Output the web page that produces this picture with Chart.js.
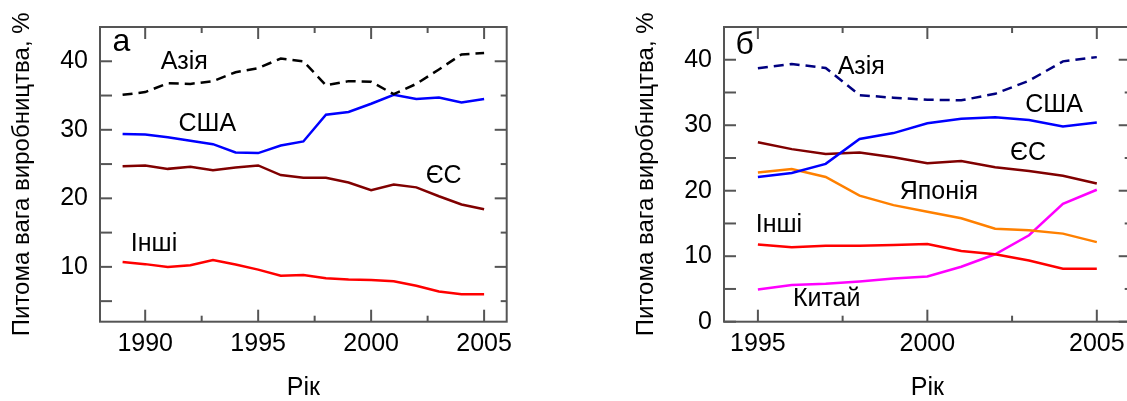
<!DOCTYPE html>
<html>
<head>
<meta charset="utf-8">
<script src="https://cdn.jsdelivr.net/npm/chart.js@4.4.1/dist/chart.umd.min.js"></script>
<style>
    html, body { margin: 0; padding: 0; background: #fff; overflow: hidden; width: 1127px; height: 401px; }
    .panel { position: absolute; top: 0; width: 560px; height: 401px; }
    #wrapA { left: 0; }
    #wrapB { left: 624px; }
</style>
</head>
<body>
<div class="panel" id="wrapA"><canvas id="chartA" width="560" height="401"></canvas></div>
<div class="panel" id="wrapB"><canvas id="chartB" width="560" height="401"></canvas></div>
<script>
// панель а
const yearsA = [1989, 1990, 1991, 1992, 1993, 1994, 1995, 1996, 1997, 1998, 1999, 2000, 2001, 2002, 2003, 2004, 2005];
const asiaA  = [35.1, 35.5, 36.8, 36.7, 37.1, 38.4, 39.0, 40.4, 40.0, 36.5, 37.1, 37.0, 35.2, 36.7, 38.8, 41.0, 41.2];
const usaA   = [29.4, 29.3, 28.9, 28.4, 27.9, 26.7, 26.6, 27.7, 28.3, 32.2, 32.6, 33.8, 35.1, 34.5, 34.7, 34.0, 34.5];
const euA    = [24.7, 24.8, 24.3, 24.6, 24.1, 24.5, 24.8, 23.4, 23.0, 23.0, 22.3, 21.2, 22.0, 21.6, 20.3, 19.1, 18.4];
const otherA = [10.7, 10.4, 10.0, 10.25, 11.0, 10.35, 9.6, 8.7, 8.8, 8.35, 8.15, 8.1, 7.9, 7.25, 6.4, 6.0, 6.0];
const xTicksA = [1990, 1992.5, 1995, 1997.5, 2000, 2002.5, 2005];
const yTicksA = [5, 10, 15, 20, 25, 30, 35, 40];

// панель б
const yearsB = [1995, 1996, 1997, 1998, 1999, 2000, 2001, 2002, 2003, 2004, 2005];
const asiaB  = [38.7, 39.35, 38.75, 34.6, 34.2, 33.9, 33.8, 34.8, 36.8, 39.75, 40.4];
const usaB   = [22.1, 22.7, 24.1, 27.9, 28.8, 30.3, 31.0, 31.2, 30.8, 29.8, 30.4];
const euB    = [27.4, 26.35, 25.6, 25.85, 25.1, 24.2, 24.55, 23.6, 23.0, 22.3, 21.1];
const japanB = [22.8, 23.3, 22.1, 19.25, 17.8, 16.8, 15.8, 14.2, 13.95, 13.45, 12.15];
const otherB = [11.8, 11.35, 11.6, 11.6, 11.7, 11.85, 10.8, 10.3, 9.35, 8.1, 8.1];
const chinaB = [4.9, 5.6, 5.8, 6.15, 6.6, 6.9, 8.4, 10.3, 13.2, 18.0, 20.15];
const xTicksB = [1995, 1997.5, 2000, 2002.5, 2005];
const yTicksB = [0, 5, 10, 15, 20, 25, 30, 35, 40];

const yTitle = 'Питома вага виробництва, %';
const xTitle = 'Рік';

// підписи кривих (у координатах даних)
const notesA = [
    { text: 'а',    x: 1988.95, y: 41.44, size: 32 },
    { text: 'Азія', x: 1991.73, y: 38.83 },
    { text: 'США',  x: 1992.75, y: 29.89 },
    { text: 'ЄС',   x: 2003.21, y: 22.20 },
    { text: 'Інші', x: 1990.39, y: 12.32 }
];
const notesB = [
    { text: 'б',      x: 1994.61, y: 40.83, size: 32 },
    { text: 'Азія',   x: 1998.05, y: 37.80 },
    { text: 'США',    x: 2003.74, y: 31.99 },
    { text: 'ЄС',     x: 2002.97, y: 24.74 },
    { text: 'Японія', x: 2000.34, y: 18.67 },
    { text: 'Інші',   x: 1995.62, y: 13.71 },
    { text: 'Китай',  x: 1997.03, y: 2.38 }
];

const FONT = 'Arial, "Liberation Sans", sans-serif';
Chart.defaults.font.family = FONT;
Chart.defaults.font.size = 25;
Chart.defaults.color = '#000';

const pts = (xs, ys) => xs.map((x, i) => ({ x, y: ys[i] }));

const series = (data, color, dashed) => ({
    data,
    borderColor: color,
    borderWidth: 2.5,
    borderDash: dashed ? [10, 6] : [],
    pointRadius: 0,
    fill: false,
    tension: 0
});

// рамка і внутрішні риски
const frameTicks = {
    id: 'frameTicks',
    afterDatasetsDraw(chart) {
        const { ctx, chartArea: a, scales: { x, y } } = chart;
        const seg = (x1, y1, x2, y2) => { ctx.beginPath(); ctx.moveTo(x1, y1); ctx.lineTo(x2, y2); ctx.stroke(); };
        ctx.save();
        ctx.strokeStyle = '#555';
        ctx.lineWidth = 2;
        ctx.strokeRect(a.left, a.top, a.right - a.left, a.bottom - a.top);
        y.ticks.forEach(t => {
            const py = y.getPixelForValue(t.value);
            const major = t.value % 10 === 0;
            seg(a.left, py, a.left + 12, py);
            seg(a.right, py, a.right - (major ? 12 : 6), py);
        });
        x.ticks.forEach(t => {
            const px = x.getPixelForValue(t.value);
            const len = t.value % 5 === 0 ? 12 : 6;
            seg(px, a.top, px, a.top + len);
            seg(px, a.bottom, px, a.bottom - len);
        });
        ctx.restore();
    }
};

const notes = {
    id: 'notes',
    afterDatasetsDraw(chart, args, opts) {
        const { ctx, scales: { x, y } } = chart;
        ctx.save();
        ctx.fillStyle = '#000';
        ctx.textAlign = 'center';
        ctx.textBaseline = 'alphabetic';
        opts.items.forEach(n => {
            ctx.font = (n.size || 25) + 'px ' + FONT;
            ctx.fillText(n.text, x.getPixelForValue(n.x), y.getPixelForValue(n.y));
        });
        ctx.restore();
    }
};

function makeChart(id, datasets, xMin, xMax, xTicks, yMin, yMax, yTicks, items) {
    return new Chart(document.getElementById(id), {
        type: 'line',
        data: { datasets },
        plugins: [frameTicks, notes],
        options: {
            responsive: false,
            animation: false,
            layout: { padding: { top: 20, right: 53.3, left: 0, bottom: 0 } },
            plugins: { legend: { display: false }, tooltip: { enabled: false }, notes: { items } },
            scales: {
                x: {
                    type: 'linear', min: xMin, max: xMax,
                    afterBuildTicks: s => { s.ticks = xTicks.map(v => ({ value: v })); },
                    afterFit: s => { s.height = 79.3; },
                    ticks: { autoSkip: false, maxRotation: 0, padding: 7, callback: v => v % 5 === 0 ? String(v) : '' },
                    grid: { display: false, drawTicks: false },
                    border: { display: false },
                    title: { display: true, text: xTitle, font: { size: 25, lineHeight: 1 }, padding: { top: 0, bottom: 0 } }
                },
                y: {
                    min: yMin, max: yMax,
                    afterBuildTicks: s => { s.ticks = yTicks.map(v => ({ value: v })); },
                    afterFit: s => { s.width = 100; },
                    ticks: { padding: 12, callback: v => v % 10 === 0 ? String(v) : '' },
                    grid: { display: false, drawTicks: false },
                    border: { display: false },
                    title: { display: true, text: yTitle, font: { size: 24, lineHeight: 1 }, padding: { top: 10, bottom: 0 } }
                }
            }
        }
    });
}

makeChart('chartA', [
    series(pts(yearsA, asiaA), '#000000', true),
    series(pts(yearsA, usaA), '#0000ff'),
    series(pts(yearsA, euA), '#800000'),
    series(pts(yearsA, otherA), '#ff0000')
], 1988, 2006, xTicksA, 2, 45, yTicksA, notesA);

makeChart('chartB', [
    series(pts(yearsB, asiaB), '#000080', true),
    series(pts(yearsB, usaB), '#0000ff'),
    series(pts(yearsB, euB), '#800000'),
    series(pts(yearsB, japanB), '#ff8000'),
    series(pts(yearsB, otherB), '#ff0000'),
    series(pts(yearsB, chinaB), '#ff00ff')
], 1994, 2006, xTicksB, 0, 45, yTicksB, notesB);
</script>
</body>
</html>
